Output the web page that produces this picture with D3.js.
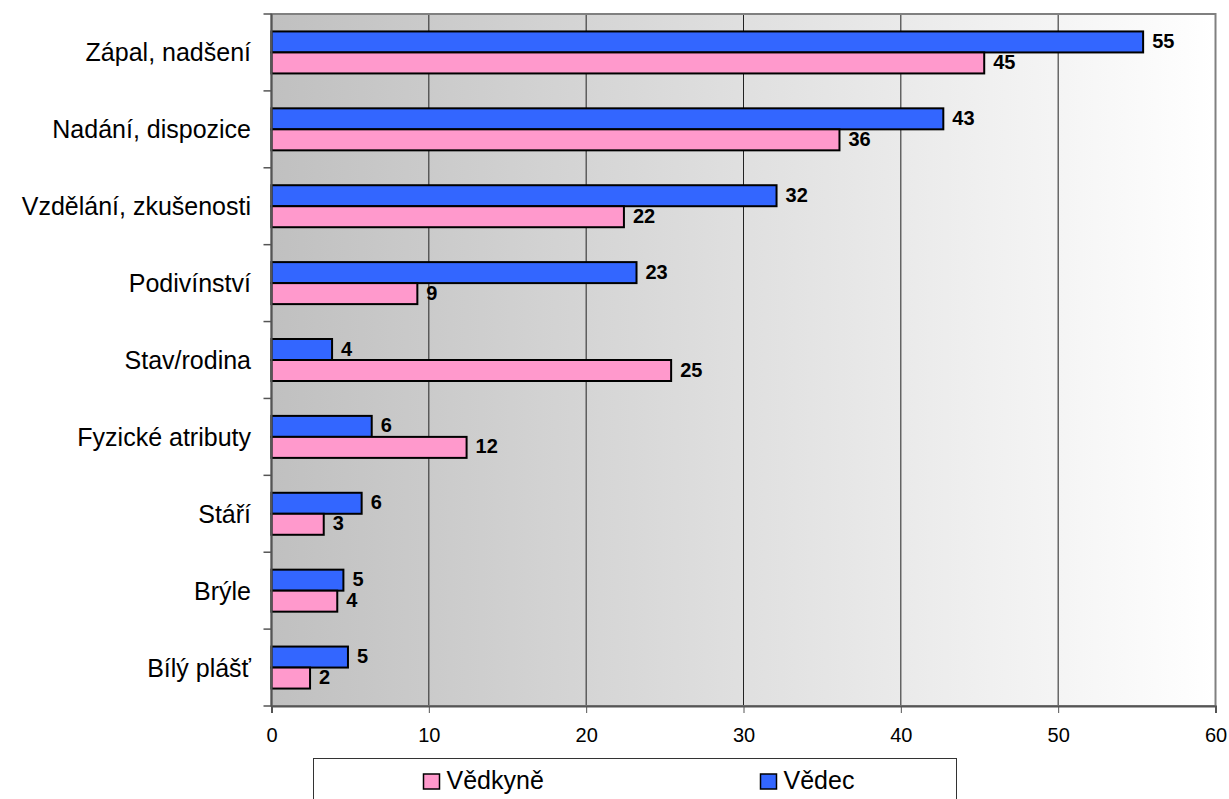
<!DOCTYPE html>
<html>
<head>
<meta charset="utf-8">
<script src="https://cdn.jsdelivr.net/npm/d3@7"></script>
<style>
  body { margin: 0; background: #fff; }
  svg { display: block; font-family: "Liberation Sans", Arial, sans-serif; }
</style>
</head>
<body>
<div id="chart"></div>
<script>
// categories, top to bottom
const categories = [
  'Zápal, nadšení', 'Nadání, dispozice', 'Vzdělání, zkušenosti', 'Podivínství',
  'Stav/rodina', 'Fyzické atributy', 'Stáří', 'Brýle', 'Bílý plášť'
];
// bar lengths (labels show rounded values)
const vedec    = [55.4, 42.7, 32.1, 23.2, 3.85, 6.37, 5.73, 4.57, 4.86];
const vedkyne  = [45.3, 36.1, 22.4, 9.27, 25.4, 12.4, 3.32, 4.18, 2.45];
const vedecLabels   = [55, 43, 32, 23, 4, 6, 6, 5, 5];
const vedkyneLabels = [45, 36, 22, 9, 25, 12, 3, 4, 2];
const xTicks = [0, 10, 20, 30, 40, 50, 60];

const series = [
  { name: 'Vědec',   values: vedec,   labels: vedecLabels,   color: '#3366ff' },
  { name: 'Vědkyně', values: vedkyne, labels: vedkyneLabels, color: '#ff99cc' }
];

const W = 1229, H = 799;
const plotL = 271.5, plotR = 1215.5, plotT = 14, plotB = 706;

const svg = d3.select('#chart').append('svg')
  .attr('width', W).attr('height', H);

const x = d3.scaleLinear().domain([0, 60]).range([plotL, plotR]);
const y = d3.scaleBand().domain(categories).range([plotT, plotB]);
const inner = d3.scaleBand().domain(series.map(s => s.name))
  .range([0, 42]);
const barOffset = (y.bandwidth() - 42) / 2;

// background gradient
const grad = svg.append('defs').append('linearGradient')
  .attr('id', 'bg').attr('x1', 0).attr('x2', 1).attr('y1', 0).attr('y2', 0);
grad.append('stop').attr('offset', 0).attr('stop-color', '#c0c0c0');
grad.append('stop').attr('offset', 1).attr('stop-color', '#ffffff');

svg.append('rect')
  .attr('x', plotL).attr('y', plotT)
  .attr('width', plotR - plotL).attr('height', plotB - plotT)
  .attr('fill', 'url(#bg)');

// vertical grid lines
svg.append('g').selectAll('line')
  .data(xTicks.slice(1, -1))
  .join('line')
  .attr('x1', d => x(d)).attr('x2', d => x(d))
  .attr('y1', plotT).attr('y2', plotB)
  .attr('stroke', '#222').attr('stroke-width', 1);

// plot border
svg.append('rect')
  .attr('x', plotL).attr('y', plotT)
  .attr('width', plotR - plotL).attr('height', plotB - plotT)
  .attr('fill', 'none').attr('stroke', '#808080').attr('stroke-width', 2);

// bars
series.forEach(s => {
  const g = svg.append('g');
  g.selectAll('rect')
    .data(categories)
    .join('rect')
    .attr('x', x(0))
    .attr('y', d => y(d) + barOffset + inner(s.name))
    .attr('width', (d, i) => x(s.values[i]) - x(0))
    .attr('height', inner.bandwidth())
    .attr('fill', s.color)
    .attr('stroke', '#000').attr('stroke-width', 2);

  g.selectAll('text')
    .data(categories)
    .join('text')
    .attr('x', (d, i) => x(s.values[i]) + 9)
    .attr('y', d => y(d) + barOffset + inner(s.name) + inner.bandwidth() / 2)
    .attr('dy', '0.3em')
    .attr('font-size', 20).attr('font-weight', 'bold')
    .text((d, i) => s.labels[i]);
});

// bottom axis
const xAxis = svg.append('g')
  .attr('transform', `translate(0,${plotB})`)
  .call(d3.axisBottom(x).tickValues(xTicks).tickSize(7).tickPadding(15));
xAxis.select('.domain').attr('stroke', '#555').attr('stroke-width', 2);
xAxis.selectAll('.tick line').attr('stroke', '#555');
xAxis.selectAll('text').attr('font-size', 20).attr('fill', '#000')
  .attr('font-family', '"Liberation Sans", Arial, sans-serif');

// left axis: ticks on band boundaries
const yAxis = svg.append('g');
yAxis.append('line')
  .attr('x1', plotL).attr('x2', plotL).attr('y1', plotT).attr('y2', plotB)
  .attr('stroke', '#555').attr('stroke-width', 2);
yAxis.selectAll('line.tk')
  .data(categories.concat(['end']))
  .join('line')
  .attr('class', 'tk')
  .attr('x1', plotL - 8).attr('x2', plotL)
  .attr('y1', (d, i) => i < categories.length ? y(d) : plotB)
  .attr('y2', (d, i) => i < categories.length ? y(d) : plotB)
  .attr('stroke', '#555').attr('stroke-width', 1.5);
yAxis.selectAll('text')
  .data(categories)
  .join('text')
  .attr('x', plotL - 20.5)
  .attr('y', d => y(d) + y.bandwidth() / 2)
  .attr('dy', '0.36em')
  .attr('text-anchor', 'end')
  .attr('font-size', 25)
  .text(d => d);

// legend
const legend = svg.append('g');
legend.append('rect')
  .attr('x', 313.5).attr('y', 758.5)
  .attr('width', 643).attr('height', 60)
  .attr('fill', '#fff').attr('stroke', '#333').attr('stroke-width', 1);
const legendItems = [
  { s: series[1], x: 423.5 },
  { s: series[0], x: 760.5 }
];
legendItems.forEach(it => {
  legend.append('rect')
    .attr('x', it.x).attr('y', 774)
    .attr('width', 16).attr('height', 15)
    .attr('fill', it.s.color).attr('stroke', '#000').attr('stroke-width', 1.5);
  legend.append('text')
    .attr('x', it.x + 23).attr('y', 788.5)
    .attr('font-size', 25)
    .text(it.s.name);
});
</script>
</body>
</html>
